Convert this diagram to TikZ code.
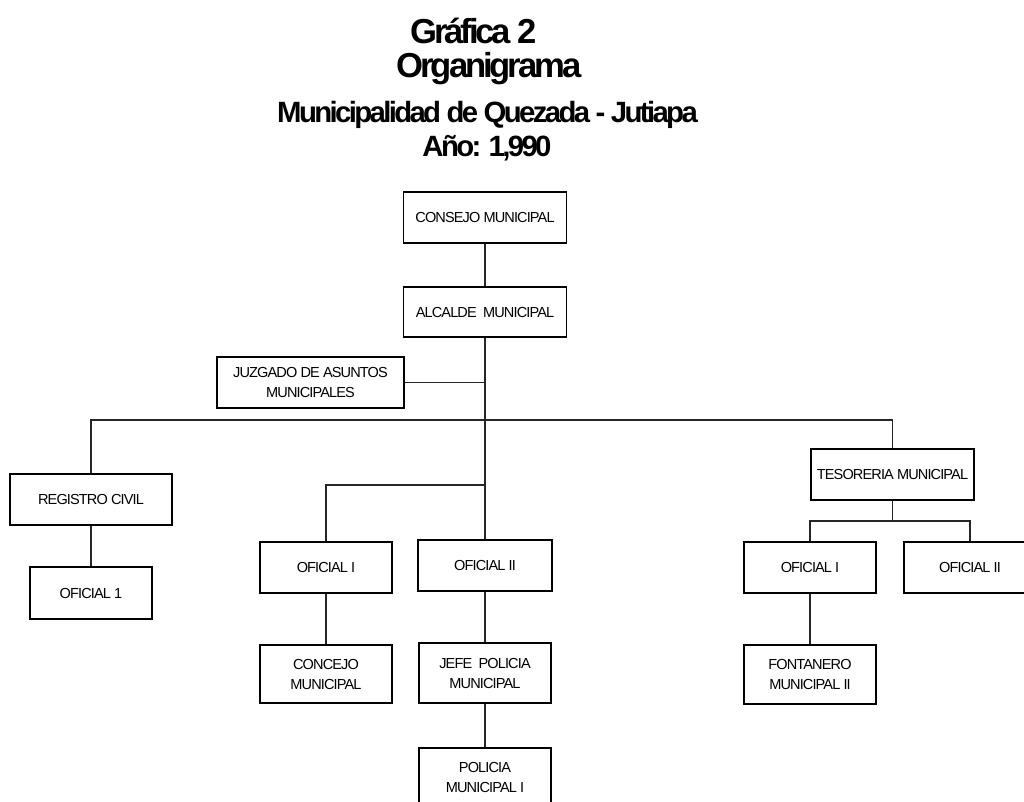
\documentclass[tikz,border=0pt]{standalone}
\usepackage{fontspec}
\newfontfamily\boxfont[LetterSpace=-6]{Liberation Sans}
\newfontfamily\ttlfont[LetterSpace=-9]{Liberation Sans}
\newfontfamily\subfont[LetterSpace=-9]{Liberation Sans}
\begin{document}
\begin{tikzpicture}[x=0.75pt,y=-0.75pt,
  bx/.style={draw=black, line width=0.8pt, align=center, inner sep=0pt,
    font=\boxfont\fontsize{10.9pt}{15pt}\selectfont},
  ln/.style={line width=0.8pt, draw=black!85},
  ttl/.style={font=\ttlfont\bfseries\fontsize{26pt}{30pt}\selectfont, anchor=base, inner sep=0pt},
  sub/.style={font=\subfont\bfseries\fontsize{22pt}{26pt}\selectfont, anchor=base, inner sep=0pt}]
\clip (0,0) rectangle (1024,802);
\fill[white] (0,0) rectangle (1024,802);

% titles
\node[ttl] (t1) at (473.5,44) {Gráfica 2};
\node[ttl] (t2) at (489,78) {Organigrama};
\node[sub] (t3) at (487.5,123) {Municipalidad de Quezada - Jutiapa};
\node[sub] (t4) at (487,157) {Año: 1,990};

% boxes
\node[bx, minimum width=122.25pt, minimum height=38.25pt] (consejo) at (485,217.5) {CONSEJO MUNICIPAL};
\node[bx, minimum width=122.25pt, minimum height=37.5pt] (alcalde) at (485,312) {ALCALDE\ \ MUNICIPAL};
\node[bx, minimum width=140.25pt, minimum height=38.25pt] (juzgado) at (310.5,382.5) {JUZGADO DE ASUNTOS\\MUNICIPALES};
\node[bx, minimum width=121.5pt, minimum height=38.25pt] (registro) at (91,499.5) {REGISTRO CIVIL};
\node[bx, minimum width=91.5pt, minimum height=39pt] (of1) at (91,593) {OFICIAL 1};
\node[bx, minimum width=99pt, minimum height=38.25pt] (ofa) at (326,567.5) {OFICIAL I};
\node[bx, minimum width=100.5pt, minimum height=38.25pt] (ofb) at (485,565.5) {OFICIAL II};
\node[bx, minimum width=99pt, minimum height=43.5pt] (concejo) at (326,674) {CONCEJO\\MUNICIPAL};
\node[bx, minimum width=99pt, minimum height=45pt] (jefe) at (485,673) {JEFE\ \ POLICIA\\MUNICIPAL};
\node[bx, minimum width=99pt, minimum height=43.5pt] (policia) at (485,777) {POLICIA\\MUNICIPAL I};
\node[bx, minimum width=122.25pt, minimum height=38.25pt] (tesoreria) at (892.5,474.5) {TESORERIA MUNICIPAL};
\node[bx, minimum width=99pt, minimum height=38.25pt] (ofc) at (810,567.5) {OFICIAL I};
\node[bx, minimum width=99pt, minimum height=38.25pt] (ofd) at (970,567.5) {OFICIAL II};
\node[bx, minimum width=99pt, minimum height=44.25pt] (fontanero) at (810,674.5) {FONTANERO\\MUNICIPAL II};

% junction points
\coordinate (h1) at (485,420);
\coordinate (h2) at (485,485);
\coordinate (h3) at (892.5,521);

% connectors
\draw[ln] (consejo) -- (alcalde);
\draw[ln] (alcalde) -- (ofb);
\draw[ln] (juzgado.east) -- (juzgado.east -| alcalde.south);
\draw[ln] (registro.north) |- (h1) -| (tesoreria.north);
\draw[ln] (ofa.north) |- (h2);
\draw[ln] (registro) -- (of1);
\draw[ln] (ofa) -- (concejo);
\draw[ln] (ofb) -- (jefe);
\draw[ln] (jefe) -- (policia);
\draw[ln] (tesoreria.south) -- (h3);
\draw[ln] (ofc.north) |- (h3) -| (ofd.north);
\draw[ln] (ofc) -- (fontanero);
\end{tikzpicture}
\end{document}
